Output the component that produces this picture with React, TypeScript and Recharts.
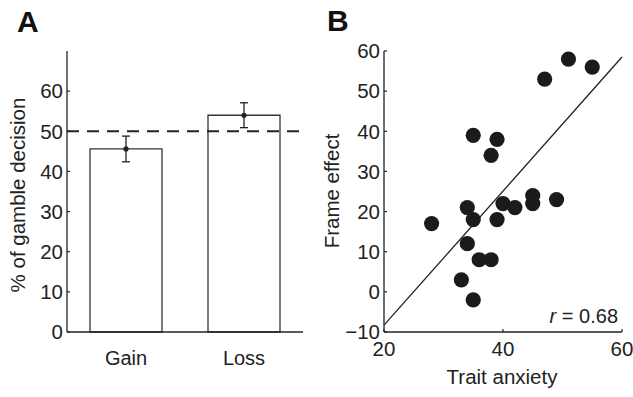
import React from "react"
import {
  BarChart,
  Bar,
  ErrorBar,
  ScatterChart,
  Scatter,
  XAxis,
  YAxis,
  ReferenceLine,
} from "recharts"

// panel A
const conditions = ["Gain", "Loss"]
const gambleRate = [45.6, 54.0]
const gambleSem = [3.2, 3.1]
const chanceLevel = 50
const gambleTicks = [0, 10, 20, 30, 40, 50, 60]

// panel B
const traitAnxiety = [51, 55, 47, 35, 39, 38, 40, 42, 45, 45, 49, 34, 35, 39, 28, 34, 36, 38, 33, 35]
const frameEffect = [58, 56, 53, 39, 38, 34, 22, 21, 24, 22, 23, 21, 18, 18, 17, 12, 8, 8, 3, -2]
const fitLine = [
  { x: 20, y: -8.3 },
  { x: 60, y: 58.5 },
]
const anxietyTicks = [20, 40, 60]
const effectTicks = [-10, 0, 10, 20, 30, 40, 50, 60]

const barData = conditions.map((name, i) => ({ name, value: gambleRate[i], err: gambleSem[i] }))
const scatterData = traitAnxiety.map((x, i) => ({ x, y: frameEffect[i] }))

const ink = "#222"
const font = "'Liberation Sans', Arial, sans-serif"
const tickStyle = { fill: ink, fontSize: 20.5, fontFamily: font }
const minus = (v: number) => String(v).replace("-", "\u2212")

const MeanDot = (p: any) => (
  <circle cx={p.x + p.width / 2} cy={p.y} r={2.6} fill={ink} />
)

const Dot = (p: any) => <circle cx={p.cx} cy={p.cy} r={7.6} fill="#1c1a1b" />

export default function App() {
  return (
    <div style={{ position: "absolute", left: 0, top: 0, width: 633, height: 397, background: "#fff", fontFamily: font }}>
      <div style={{ position: "absolute", left: 0, top: 0 }}>
        <BarChart width={320} height={397} data={barData} margin={{ top: 51, right: 17, bottom: 35, left: 0 }}>
          <XAxis
            dataKey="name"
            height={30}
            tickLine={false}
            tickMargin={13}
            tick={{ ...tickStyle, fontSize: 20 }}
            axisLine={{ stroke: ink, strokeWidth: 1.3 }}
          />
          <YAxis
            width={67}
            domain={[0, 70]}
            ticks={gambleTicks}
            interval={0}
            tickSize={-3}
            tickMargin={7}
            tick={tickStyle}
            tickLine={{ stroke: ink, strokeWidth: 1.2 }}
            axisLine={{ stroke: ink, strokeWidth: 1.3 }}
          />
          <Bar
            dataKey="value"
            barSize={72}
            fill="#fff"
            stroke="#333"
            strokeWidth={1.3}
            isAnimationActive={false}
            label={MeanDot}
          >
            <ErrorBar dataKey="err" width={4} stroke={ink} strokeWidth={1.3} />
          </Bar>
          <ReferenceLine y={chanceLevel} stroke={ink} strokeWidth={2} strokeDasharray="12 8" />
        </BarChart>
      </div>
      <div style={{ position: "absolute", left: 320, top: 0 }}>
        <ScatterChart width={313} height={397} margin={{ top: 51, right: 11, bottom: 35, left: 0 }} style={{ overflow: "visible" }}>
          <XAxis
            type="number"
            dataKey="x"
            height={30}
            domain={[20, 60]}
            ticks={anxietyTicks}
            interval={0}
            tickSize={-3}
            tickMargin={12}
            tick={tickStyle}
            tickLine={{ stroke: ink, strokeWidth: 1.2 }}
            axisLine={{ stroke: ink, strokeWidth: 1.3 }}
          />
          <YAxis
            type="number"
            dataKey="y"
            width={64}
            domain={[-10, 60]}
            ticks={effectTicks}
            interval={0}
            tickSize={-3}
            tickMargin={7}
            tickFormatter={minus}
            tick={tickStyle}
            tickLine={{ stroke: ink, strokeWidth: 1.2 }}
            axisLine={{ stroke: ink, strokeWidth: 1.3 }}
          />
          <ReferenceLine segment={fitLine} stroke={ink} strokeWidth={1.3} />
          <Scatter data={scatterData} shape={Dot} isAnimationActive={false} />
        </ScatterChart>
      </div>
      <svg width={633} height={397} style={{ position: "absolute", left: 0, top: 0, pointerEvents: "none" }}>
        <g fill="#111" fontFamily={font}>
          <text x={17} y={32} fontSize={30} fontWeight="bold">A</text>
          <text x={327} y={31} fontSize={30} fontWeight="bold">B</text>
          <text transform="translate(25,195) rotate(-90)" textAnchor="middle" fontSize={20.5} fill={ink}>
            % of gamble decision
          </text>
          <text transform="translate(339,191) rotate(-90)" textAnchor="middle" fontSize={20.5} fill={ink}>
            Frame effect
          </text>
          <text x={502} y={384} textAnchor="middle" fontSize={20.5} fill={ink}>Trait anxiety</text>
          <text x={618} y={323} textAnchor="end" fontSize={20} fill={ink}>
            <tspan fontStyle="italic">r</tspan> = 0.68
          </text>
        </g>
      </svg>
    </div>
  )
}
